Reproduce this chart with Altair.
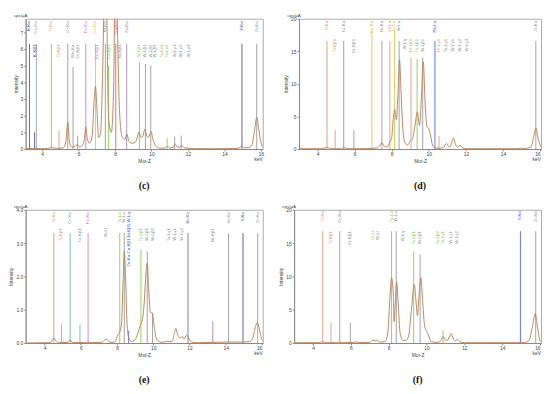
import altair as alt
import pandas as pd

NAVY = "#3c3c96"; GRAYB = "#8c9cb0"; SALMON = "#d98c72"; GRAY = "#8c8c8c"
MAGENTA = "#c76ad6"; YELLOW = "#d6c23c"; RED = "#e0503c"; PURPLE = "#9a78b4"
GREEN = "#7cc43c"; BLUE = "#3c50dc"; TEAL = "#6aa8a0"; BRP = "#6a5aa8"
SPEC = "#b88660"
TICKS_X = [4, 6, 8, 10, 12, 14, 16]

# ---------------- panel (c) ----------------
c_kev = [3.1, 3.31, 3.5, 3.69, 3.9, 4.3, 4.45, 4.51, 4.58, 4.8, 5.15, 5.3, 5.41, 5.5, 5.62, 5.8, 5.95, 6.05,
         6.2, 6.32, 6.40, 6.48, 6.62, 6.75, 6.85, 6.93, 7.0, 7.1, 7.2, 7.32, 7.4, 7.47, 7.55, 7.65, 7.8,
         7.92, 8.0, 8.05, 8.12, 8.25, 8.4, 8.55, 8.65, 8.75, 8.9, 9.1, 9.22, 9.32, 9.42, 9.52, 9.64, 9.75,
         9.85, 9.97, 10.1, 10.25, 10.5, 10.75, 10.88, 11.0, 11.2, 11.3, 11.4, 11.55, 11.65, 11.8, 12.0, 12.4,
         13.5, 14.7, 14.85, 14.96, 15.08, 15.3, 15.5, 15.65, 15.77, 15.88, 15.98, 16.1]
c_int = [0.02, 0.04, 0.02, 0.04, 0.02, 0.03, 0.08, 0.12, 0.08, 0.04, 0.06, 0.4, 1.6, 0.45, 0.12, 0.15, 0.27, 0.12,
         0.2, 0.6, 1.33, 0.6, 0.35, 0.8, 2.8, 3.75, 2.6, 0.7, 0.9, 4.5, 9.0, 12.0, 8.0, 1.8, 1.0,
         3.5, 10.0, 12.0, 8.0, 2.2, 0.7, 0.6, 0.9, 0.5, 0.35, 0.4, 0.7, 1.0, 0.7, 0.75, 1.2, 0.75,
         0.7, 1.05, 0.5, 0.15, 0.05, 0.06, 0.15, 0.06, 0.12, 0.3, 0.12, 0.1, 0.22, 0.08, 0.05, 0.02,
         0.02, 0.03, 0.1, 0.18, 0.08, 0.08, 0.25, 1.1, 1.9, 1.2, 0.5, 0.1]
c_el_kev = [3.31, 3.69, 4.51, 5.41, 6.40, 6.93, 7.47, 8.04, 8.64, 14.96, 15.77,
            3.59, 4.93, 5.70, 5.95, 7.00, 7.65, 8.26, 9.34, 9.67, 9.96, 10.22, 10.56, 10.86, 11.27, 11.63, 12.04]
c_el_label = ["K-Kα", "Ca-Kα", "Ti-Kα", "Cr-Kα", "Fe-Kα", "Co-Kα", "Ni-Kα", "Cu-Kα", "Zn-Kα", "Y-Kα", "Zr-Kα",
              "K-Kβ1", "Ti-Kβ1", "Mn-Kα", "Cr-Kβ1", "Fe-Kβ1", "Co-Kβ1", "Ni-Kβ1", "Ta-Lβ1", "W-Lβ1", "W-Lβ2",
              "W-Lβ3", "Ta-Lγ1", "Ta-Lγ2", "W-Lγ1", "W-Lγ2", "W-Lγ3"]
c_el_color = [NAVY, GRAYB, SALMON, GRAY, MAGENTA, YELLOW, GRAY, RED, PURPLE, NAVY, GRAY,
              NAVY, SALMON, GRAY, GRAY, MAGENTA, GREEN, GRAY, GREEN, GRAY, GRAY, GRAY, GREEN, GREEN, GRAY, GRAY, GRAY]
c_el_top = [6.3, 6.3, 6.3, 6.3, 6.3, 6.3, 6.3, 6.3, 6.3, 6.3, 6.3,
            1.0, 1.1, 4.9, 0.8, 0, 5.0, 0, 5.2, 5.1, 5.0, 0, 0, 0.65, 0.75, 0.8, 0]
c_el_row = [1] * 11 + [2] * 16

# ---------------- panel (d) ----------------
d_kev = [3.0, 4.3, 4.51, 4.7, 5.3, 5.41, 5.55, 6.5, 7.2, 7.35, 7.47, 7.6, 7.75, 7.9, 8.0, 8.08, 8.16, 8.25,
         8.33, 8.42, 8.5, 8.6, 8.72, 8.85, 9.0, 9.12, 9.25, 9.38, 9.5, 9.6, 9.7, 9.8, 9.9, 9.98, 10.1, 10.2,
         10.35, 10.6, 10.8, 10.95, 11.1, 11.2, 11.32, 11.45, 11.55, 11.68, 11.8, 12.0, 14.8, 14.95, 15.1,
         15.5, 15.65, 15.77, 15.9, 16.05]
d_int = [0.05, 0.05, 0.3, 0.05, 0.05, 0.25, 0.05, 0.05, 0.15, 0.5, 1.0, 0.4, 0.3, 1.1, 1.8, 4.5, 6.1, 4.5,
         8.0, 13.7, 9.0, 3.0, 0.9, 0.6, 1.2, 1.6, 3.5, 5.7, 3.6, 8.0, 13.4, 7.0, 3.4, 3.2, 2.0, 0.6,
         0.15, 0.1, 0.3, 0.85, 0.3, 0.6, 1.7, 0.6, 0.3, 0.6, 0.2, 0.05, 0.05, 0.15, 0.05,
         0.3, 1.8, 3.25, 1.5, 0.3]
d_el_kev = [4.51, 5.41, 6.93, 7.47, 7.90, 8.15, 8.40, 10.33, 15.77,
            4.95, 5.96, 8.74, 9.04, 9.37, 9.67, 10.55, 10.95, 11.32, 11.68, 12.08]
d_el_label = ["Ti-Kα", "Cr-Kα", "Co-Kα", "Ni-Kα", "Hf-Lα", "Ta-Lα", "W-Lα", "Pb-Lα", "Zr-Kα",
              "Ti-Kβ1", "Cr-Kβ1", "W-Lη", "Hf-Lβ1", "Ta-Lβ1", "W-Lβ1", "Hf-Lγ1", "Ta-Lγ1", "W-Lγ1", "W-Lγ2", "W-Lγ3"]
d_el_color = [SALMON, GRAY, YELLOW, GRAY, SALMON, YELLOW, GRAY, BLUE, GRAY,
              SALMON, GRAY, GRAY, SALMON, GREEN, GRAY, SALMON, GRAY, GRAY, GRAY, GRAY]
d_el_top = [16.6, 16.6, 18.3, 16.6, 16.6, 18.3, 16.6, 16.6, 16.6,
            2.9, 2.9, 0, 14.0, 13.8, 14.0, 2.0, 0, 0, 0, 0]
d_el_row = [1] * 9 + [2] * 11

# ---------------- panel (e) ----------------
e_kev = [2.95, 4.3, 4.42, 4.51, 4.6, 4.75, 5.3, 5.41, 5.52, 6.3, 6.40, 6.5, 7.15, 7.3, 7.4, 7.5, 7.65, 7.9,
         8.05, 8.15, 8.25, 8.33, 8.40, 8.47, 8.55, 8.65, 8.8, 9.0, 9.15, 9.3, 9.4, 9.5, 9.6, 9.67, 9.75, 9.85,
         9.95, 10.05, 10.2, 10.5, 10.75, 10.9, 11.05, 11.15, 11.25, 11.35, 11.5, 11.6, 11.7, 11.85, 11.95,
         12.1, 12.5, 14.1, 14.95, 15.3, 15.5, 15.65, 15.75, 15.85, 15.95, 16.05]
e_int = [0.0, 0.01, 0.08, 0.15, 0.08, 0.01, 0.02, 0.1, 0.02, 0.01, 0.04, 0.01, 0.02, 0.08, 0.12, 0.08, 0.01, 0.05,
         0.25, 0.33, 0.6, 1.8, 2.75, 2.0, 0.6, 0.15, 0.05, 0.1, 0.3, 0.55, 0.7, 1.2, 2.1, 2.4, 1.6, 0.9,
         0.9, 0.5, 0.1, 0.02, 0.05, 0.04, 0.05, 0.25, 0.44, 0.25, 0.15, 0.2, 0.12, 0.24, 0.15,
         0.03, 0.01, 0.03, 0.03, 0.04, 0.15, 0.5, 0.61, 0.45, 0.2, 0.05]
e_el_kev = [4.51, 5.41, 6.40, 8.15, 8.40, 8.64, 11.92, 14.16, 14.96, 15.77,
            4.93, 5.95, 7.39, 9.32, 9.67, 9.96, 10.86, 11.18, 11.59, 13.29]
e_el_label = ["Ti-Kα", "Cr-Kα", "Fe-Kα", "Ta-Lα", "W-Lα", "Zn-Kα,Cu-Kβ1,Ni-Kβ1,W-Lη", "Br-Kα", "Sr-Kα", "Y-Kα", "Zr-Kα",
              "Ti-Kβ1", "Cr-Kβ1", "W-Ll", "Ta-Lβ1", "W-Lβ1", "W-Lβ2", "Ta-Lγ1", "W-Lγ1", "W-Lγ2", "Br-Kβ1"]
e_el_color = [SALMON, TEAL, MAGENTA, GREEN, GRAY, BLUE, BRP, GRAY, NAVY, GRAY,
              SALMON, TEAL, GRAY, GREEN, GRAY, GRAY, GRAY, GRAY, GRAY, PURPLE]
e_el_top = [3.3, 3.3, 3.3, 3.3, 3.3, 0.37, 3.3, 3.3, 3.3, 3.3,
            0.55, 0.55, 0, 2.8, 2.75, 0.9, 0, 0, 0, 0.66]
e_el_row = [1] * 10 + [2] * 10

# ---------------- panel (f) ----------------
f_kev = [3.0, 4.3, 4.51, 4.7, 5.3, 5.41, 5.55, 6.1, 6.3, 6.5, 7.0, 7.17, 7.28, 7.39, 7.5, 7.8, 7.95, 8.05,
         8.15, 8.25, 8.28, 8.35, 8.42, 8.5, 8.6, 8.75, 8.9, 9.05, 9.2, 9.35, 9.45, 9.52, 9.6, 9.7, 9.8, 9.9,
         9.98, 10.1, 10.25, 10.5, 10.7, 10.8, 10.88, 10.98, 11.1, 11.2, 11.3, 11.42, 11.52, 11.62, 11.75,
         12.0, 14.8, 14.96, 15.1, 15.4, 15.6, 15.74, 15.86, 15.98, 16.05]
f_int = [0.05, 0.05, 0.2, 0.05, 0.05, 0.15, 0.05, 0.08, 0.15, 0.08, 0.1, 0.45, 0.3, 0.45, 0.15, 0.2, 1.5, 6.0,
         9.8, 7.0, 3.2, 6.0, 9.1, 6.0, 1.5, 0.4, 0.4, 1.0, 5.0, 8.75, 6.0, 4.1, 7.0, 9.8, 6.0, 2.5,
         1.9, 1.2, 0.2, 0.1, 0.2, 0.6, 1.0, 0.5, 0.4, 0.9, 1.4, 0.6, 0.35, 0.55, 0.2,
         0.05, 0.05, 0.15, 0.05, 0.3, 2.5, 4.4, 2.5, 0.5, 0.1]
f_el_kev = [4.51, 5.41, 8.15, 8.40, 14.96, 15.77,
            4.95, 5.97, 7.17, 7.42, 8.73, 9.32, 9.66, 10.59, 10.87, 11.30, 11.63]
f_el_label = ["Ti-Kα", "Cr-Kα", "Ta-Lα", "W-Lα", "Y-Kα", "Zr-Kα",
              "Ti-Kβ1", "Cr-Kβ1", "Ta-Ll", "W-Ll", "W-Lη", "Ta-Lβ1", "W-Lβ1", "Ta-Lβ2", "Ta-Lγ1", "W-Lγ1", "W-Lγ2"]
f_el_color = [SALMON, GRAY, GREEN, GRAY, BLUE, GRAY,
              SALMON, GRAY, GREEN, GRAY, GRAY, GREEN, GRAY, GREEN, GREEN, GRAY, GRAY]
f_el_top = [16.8, 16.8, 16.8, 16.8, 16.8, 16.8,
            3.0, 3.0, 0, 0, 0, 13.75, 13.3, 0, 1.9, 0, 0]
f_el_row = [1] * 6 + [2] * 11


def panel(kev, inten, el_kev, el_label, el_color, el_top, el_row,
          xdom, ydom, yticks, yfmt, row_y, caption, w, h):
    spec = pd.DataFrame({"kev": kev, "int": inten})
    el = pd.DataFrame({"kev": el_kev, "label": el_label, "color": el_color,
                       "top": el_top, "row": el_row})
    el["base"] = 0.0
    el["ly"] = [row_y[r - 1] for r in el_row]
    xs = alt.Scale(domain=xdom, nice=False, zero=False)
    ys = alt.Scale(domain=ydom, nice=False)
    xax = alt.Axis(values=TICKS_X, title="Mot-Z", format="d", labelOverlap=False)
    yax = alt.Axis(values=yticks, title="Intensity", format=yfmt, labelOverlap=False)
    X = lambda f: alt.X(f, scale=xs, axis=xax)
    Y = lambda f: alt.Y(f, scale=ys, axis=yax)
    rules = alt.Chart(el[el["top"] > 0]).mark_rule(strokeWidth=0.8).encode(
        x=X("kev:Q"), y=Y("top:Q"), y2="base:Q",
        color=alt.Color("color:N", scale=None),
    )
    line = alt.Chart(spec).mark_line(clip=True, interpolate="monotone", color=SPEC, strokeWidth=1).encode(
        x=X("kev:Q"), y=Y("int:Q"))
    labels = alt.Chart(el).mark_text(angle=270, align="right", baseline="middle",
                                     fontSize=4.5, font="Liberation Sans").encode(
        x=X("kev:Q"), y=Y("ly:Q"), text="label:N",
        color=alt.Color("color:N", scale=None))
    unit = alt.Chart(pd.DataFrame({"t": ["cps/µA"]})).mark_text(
        align="left", baseline="bottom", fontSize=4.5, color="#444", font="Liberation Sans").encode(
        x=alt.value(-12), y=alt.value(-1), text="t:N")
    kevt = alt.Chart(pd.DataFrame({"t": ["keV"]})).mark_text(
        align="right", baseline="top", fontSize=5, color="#444", font="Liberation Sans").encode(
        x=alt.value(w), y=alt.value(h + 8), text="t:N")
    return alt.layer(rules, line, labels, unit, kevt).properties(
        width=w, height=h,
        title=alt.TitleParams(caption, orient="bottom", anchor="middle", font="Liberation Serif",
                              fontSize=10, fontWeight="bold", color="#111", offset=18))


pc = panel(c_kev, c_int, c_el_kev, c_el_label, c_el_color, c_el_top, c_el_row,
           [3.1, 16.1], [0, 7.8], [0, 1, 2, 3, 4, 5, 6, 7], "d", [7.65, 6.25], "(c)", 242, 133)
pd_ = panel(d_kev, d_int, d_el_kev, d_el_label, d_el_color, d_el_top, d_el_row,
            [3.0, 16.05], [0, 20], [0, 5, 10, 15, 20], "d", [19.7, 16.9], "(d)", 247, 133)
pe = panel(e_kev, e_int, e_el_kev, e_el_label, e_el_color, e_el_top, e_el_row,
           [2.95, 16.05], [0, 4], [0, 1, 2, 3, 4], ".1f", [3.93, 3.45], "(e)", 242, 136)
pf = panel(f_kev, f_int, f_el_kev, f_el_label, f_el_color, f_el_top, f_el_row,
           [3.0, 16.05], [0, 20], [0, 5, 10, 15, 20], "d", [19.8, 16.8], "(f)", 252, 136)

chart = alt.vconcat(
    alt.hconcat(pc, pd_, spacing=18),
    alt.hconcat(pe, pf, spacing=14),
    spacing=11,
).properties(padding={"left": 0, "top": 0, "right": 0, "bottom": 0}).configure_axis(
    labelFontSize=5, titleFontSize=5, tickSize=2, labelPadding=1, titlePadding=2,
    domainColor="#888", tickColor="#888", labelColor="#444", titleColor="#444", grid=False,
    labelFont="Liberation Sans", titleFont="Liberation Sans", titleFontWeight="normal",
    labelOverlap=False,
).configure_view(stroke="#aaa", strokeWidth=1)

chart.save("out.html", embed_options={"renderer": "svg", "actions": False})
